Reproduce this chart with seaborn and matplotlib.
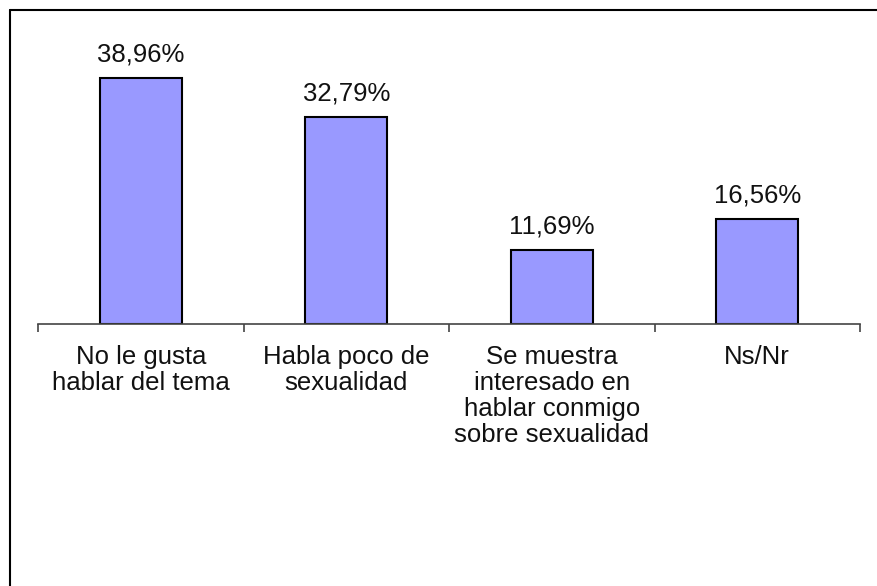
import matplotlib
matplotlib.use('Agg')
import matplotlib.pyplot as plt
import seaborn as sns
import pandas as pd
from matplotlib.lines import Line2D

categorias = ['No le gusta\nhablar del tema',
              'Habla poco de\nsexualidad',
              'Se muestra\ninteresado en\nhablar conmigo\nsobre sexualidad',
              'Ns/Nr']
porcentajes = [38.96, 32.79, 11.69, 16.56]
etiquetas = ['38,96%', '32,79%', '11,69%', '16,56%']

df = pd.DataFrame({'categoria': categorias, 'porcentaje': porcentajes})

sns.set_style('white')
plt.rcParams['font.family'] = ['Liberation Sans', 'DejaVu Sans']

W, H = 877, 586
fig = plt.figure(figsize=(W / 100, H / 100), dpi=100)
ax = fig.add_axes([38 / W, (H - 324) / H, (860 - 38) / W, (324 - 30) / H])

sns.barplot(data=df, x='categoria', y='porcentaje', color='#9999FF', saturation=1,
            edgecolor='black', linewidth=1.5, width=0.4, ax=ax)

ax.set_ylim(0, 294 / 6.32)
ax.set_xlim(-0.5, len(categorias) - 0.5)

for i, (v, t) in enumerate(zip(porcentajes, etiquetas)):
    ax.annotate(t, (i, v), xytext=(0, 12), textcoords='offset points',
                ha='center', va='baseline', fontsize=18.5, color='#111111')

for s in ['top', 'left', 'right']:
    ax.spines[s].set_visible(False)
ax.spines['bottom'].set_color('#444444')
ax.spines['bottom'].set_linewidth(1.2)

ax.set_yticks([])
ax.set_xlabel('')
ax.set_ylabel('')
ax.set_xticks([-0.5, 0.5, 1.5, 2.5, 3.5], minor=True)
ax.tick_params(axis='x', which='minor', direction='out', length=6, width=1.2, color='#444444', bottom=True)
ax.tick_params(axis='x', which='major', length=0, pad=15, labelsize=18.5, labelcolor='#111111')
for lbl in ax.get_xticklabels():
    lbl.set_linespacing(1.1)
    lbl.set_va('top')

# marco exterior (solo izquierda y arriba visibles)
fig.add_artist(Line2D([9.5 / W, 9.5 / W], [0, 1 - 9.5 / H], transform=fig.transFigure,
                      color='black', linewidth=1.5))
fig.add_artist(Line2D([9.5 / W, 1], [1 - 9.5 / H, 1 - 9.5 / H], transform=fig.transFigure,
                      color='black', linewidth=1.5))

fig.savefig('out.png', dpi=100)
